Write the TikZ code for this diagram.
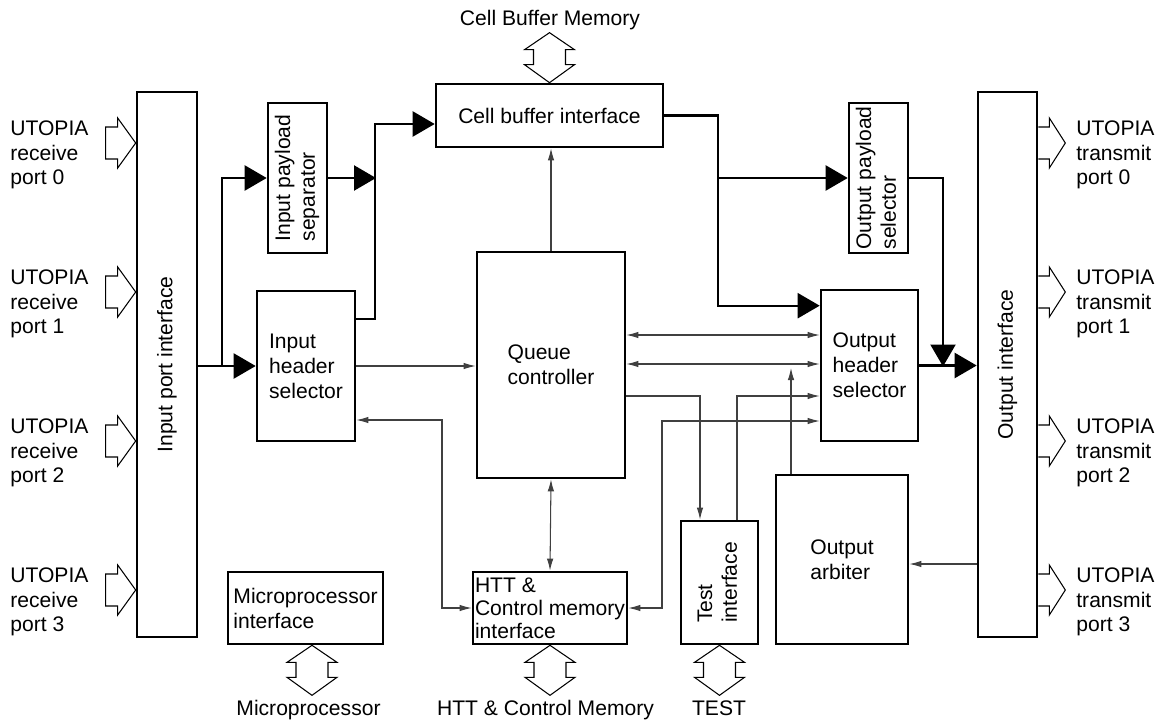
\documentclass[tikz,border=0pt]{standalone}
\usepackage{fontspec}
\setmainfont{Liberation Sans}
\usepackage{graphicx}
\usepackage{tikz}
\usetikzlibrary{arrows.meta, calc, positioning}

\begin{document}
\begin{tikzpicture}[
    font=\fontsize{12}{14.2}\selectfont,
    box/.style={draw, line width=1.5pt, rectangle, inner sep=0pt, align=left},
    txt/.style={inner sep=0pt, align=left},
    busarrow/.style={line width=1.3pt, -{Triangle[length=0.44cm, width=0.5cm]}},
    sigarrow/.style={line width=0.6pt, black!75, -{Latex[length=0.24cm, width=0.13cm]}},
    sigboth/.style={sigarrow, {Latex[length=0.24cm, width=0.13cm]}-{Latex[length=0.24cm, width=0.13cm]}},
    portin/.pic={\draw[line width=0.6pt] (0,0) -- (-0.36,0.5) -- (-0.36,0.32) -- (-0.6,0.32)
      -- (-0.6,-0.32) -- (-0.36,-0.32) -- (-0.36,-0.5) -- cycle;},
    portout/.pic={\draw[line width=0.6pt] (0,0.32) -- (0.22,0.32) -- (0.22,0.5) -- (0.54,0)
      -- (0.22,-0.5) -- (0.22,-0.32) -- (0,-0.32);},
    memport/.pic={\draw[line width=0.6pt] (0,-0.5) -- (-0.5,-0.14) -- (-0.32,-0.14) -- (-0.32,0.16)
      -- (-0.5,0.16) -- (0,0.5) -- (0.5,0.16) -- (0.32,0.16) -- (0.32,-0.14) -- (0.5,-0.14) -- cycle;}
]
\useasboundingbox (0,0) rectangle (23.3,-14.46);

% Port interfaces
\node[box, minimum width=1.2cm, minimum height=10.9cm] (inp) at (3.34,-7.29) {\rotatebox{90}{Input port interface}};
\node[box, minimum width=1.18cm, minimum height=10.9cm] (outp) at (20.15,-7.29) {\rotatebox{90}{Output interface}};

% Input side
\node[box, minimum width=1.18cm, minimum height=3cm] (ips) at (5.95,-3.56)
  {\rotatebox{90}{\begin{tabular}{@{}l@{}}Input payload\\separator\end{tabular}}};
\node[box, minimum width=1.96cm, minimum height=3cm] (ihs) at (6.12,-7.32) {Input\\header\\selector};

% Core
\node[box, minimum width=4.54cm, minimum height=1.26cm] (cbi) at (10.99,-2.31) {Cell buffer interface};
\node[box, minimum width=2.96cm, minimum height=4.52cm] (qc) at (11.02,-7.30) {Queue\\controller};
\node[box, minimum width=3.08cm, minimum height=1.44cm, font=\fontsize{12}{13}\selectfont] (htt) at (11.0,-12.16)
  {HTT \&\\Control memory\\interface};
\node[box, minimum width=3.1cm, minimum height=1.44cm] (mpi) at (6.11,-12.16) {Microprocessor\\interface};
\node[box, minimum width=1.54cm, minimum height=2.46cm] (test) at (14.39,-11.65)
  {\rotatebox{90}{\begin{tabular}{@{}l@{}}Test\\interface\end{tabular}}};

% Output side
\node[box, minimum width=1.18cm, minimum height=3cm] (ops) at (17.57,-3.56)
  {\rotatebox{90}{\begin{tabular}{@{}l@{}}Output payload\\selector\end{tabular}}};
\node[box, minimum width=1.94cm, minimum height=3.02cm] (ohs) at (17.39,-7.31) {Output\\header\\selector};
\node[box, minimum width=2.64cm, minimum height=3.38cm] (oarb) at (16.84,-11.19) {Output\\arbiter};

% UTOPIA ports
\node[txt, anchor=north west] (rx0) at (0.2,-2.40) {UTOPIA\\receive\\port 0};
\node[txt, anchor=north west] (rx1) at (0.2,-5.38) {UTOPIA\\receive\\port 1};
\node[txt, anchor=north west] (rx2) at (0.2,-8.36) {UTOPIA\\receive\\port 2};
\node[txt, anchor=north west] (rx3) at (0.2,-11.34) {UTOPIA\\receive\\port 3};
\node[txt, anchor=north west] (tx0) at (21.52,-2.40) {UTOPIA\\transmit\\port 0};
\node[txt, anchor=north west] (tx1) at (21.52,-5.38) {UTOPIA\\transmit\\port 1};
\node[txt, anchor=north west] (tx2) at (21.52,-8.36) {UTOPIA\\transmit\\port 2};
\node[txt, anchor=north west] (tx3) at (21.52,-11.34) {UTOPIA\\transmit\\port 3};
\pic at (inp.west |- 0,-2.86) {portin};
\pic at (inp.west |- 0,-5.84) {portin};
\pic at (inp.west |- 0,-8.82) {portin};
\pic at (inp.west |- 0,-11.80) {portin};
\pic at (outp.east |- 0,-2.86) {portout};
\pic at (outp.east |- 0,-5.84) {portout};
\pic at (outp.east |- 0,-8.82) {portout};
\pic at (outp.east |- 0,-11.80) {portout};

% External memories
\node[txt, anchor=base] (cbm) at (11.0,-0.52) {Cell Buffer Memory};
\node[txt, anchor=base] (mp) at (6.17,-14.3) {Microprocessor};
\node[txt, anchor=base] (httm) at (10.91,-14.3) {HTT \& Control Memory};
\node[txt, anchor=base] (tst) at (14.38,-14.3) {TEST};
\pic at ($(cbi.north)+(0,0.5)$) {memport};
\pic at ($(mpi.south)+(0.13,-0.5)$) {memport};
\pic at ($(htt.south)+(0,-0.5)$) {memport};
\pic at ($(test.south)+(0,-0.5)$) {memport};

% Cell data path
\coordinate (injoin) at (4.44,-7.32);
\coordinate (inmerge) at (7.52,-3.56);
\coordinate (outsplit) at (14.38,-3.56);
\coordinate (outmerge) at (18.86,-7.33);
\draw[busarrow] (inp.east |- ihs.west) -- (ihs.west);
\draw[busarrow] (injoin) |- (ips.west);
\draw[busarrow] (ips.east) -- (inmerge);
\draw[busarrow] ($(ihs.north east)+(0,-0.58)$) -| ($(cbi.west)+(-1.2,-0.17)$) -- ($(cbi.west)+(0,-0.17)$);
\draw[busarrow] (cbi.east) -| ($(ohs.north west)+(-2.04,-0.34)$) -- ($(ohs.north west)+(0,-0.34)$);
\draw[busarrow] (outsplit) -- (ops.west);
\draw[busarrow] (ops.east) -| (outmerge);
\draw[busarrow] (ohs.east) -- (ohs.east -| outp.west);

% Control signals
\coordinate (arbtip) at (15.82,-7.36);
\draw[sigarrow] (ihs.east) -- (ihs.east -| qc.west);
\draw[sigarrow] (qc.north) -- (qc.north |- cbi.south);
\draw[sigboth] (qc.east |- 0,-6.70) -- (ohs.west |- 0,-6.70);
\draw[sigboth] (qc.east |- 0,-7.28) -- (ohs.west |- 0,-7.28);
\draw[sigarrow] (qc.east |- 0,-7.92) -| ($(test.north)+(-0.39,0)$);
\draw[sigarrow] ($(test.north)+(0.35,0)$) |- (ohs.west |- 0,-7.92);
\draw[sigboth] (htt.east) -| (13.24,-8.42) -- (ohs.west |- 0,-8.42);
\draw[sigarrow] (oarb.north -| arbtip) -- (arbtip);
\draw[sigarrow] (outp.west |- 0,-11.28) -- (oarb.east |- 0,-11.28);
\draw[sigboth] (ihs.east |- 0,-8.40) -| (8.84,-12.16) -- (htt.west);
\draw[sigboth] (qc.south) -- (htt.north);

\end{tikzpicture}
\end{document}
